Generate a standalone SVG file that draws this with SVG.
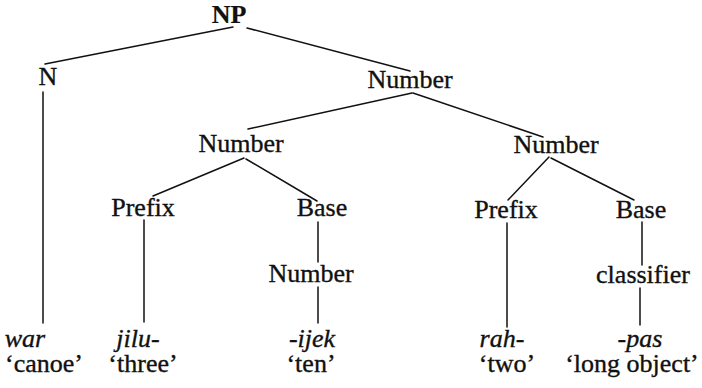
<svg xmlns="http://www.w3.org/2000/svg" width="702" height="388" viewBox="0 0 702 388">
  <style>
    .lbl { font-family: "Liberation Serif", "DejaVu Serif", "Times New Roman", serif; font-size: 26px; fill: #111; stroke: #111; stroke-width: 0.35; text-anchor: middle; }
    .root { font-weight: bold; stroke-width: 0.2; }
    .form { font-style: italic; }
    .edge { stroke: #111; stroke-width: 1.5; fill: none; stroke-linecap: round; }
  </style>
  <rect width="702" height="388" fill="#fff"/>

  <!-- tree branches -->
  <g id="connectors">
    <line class="edge" x1="233" y1="27" x2="45" y2="64"/>
    <line class="edge" x1="247" y1="28" x2="410" y2="71"/>
    <line class="edge" x1="412" y1="93" x2="248" y2="129"/>
    <line class="edge" x1="413" y1="93" x2="543" y2="137"/>
    <line class="edge" x1="244" y1="158" x2="153" y2="196"/>
    <line class="edge" x1="246" y1="159" x2="317" y2="201"/>
    <line class="edge" x1="549" y1="157" x2="508" y2="200"/>
    <line class="edge" x1="551" y1="158" x2="634" y2="200"/>
    <line class="edge" x1="43" y1="92" x2="43" y2="323"/>
    <line class="edge" x1="144" y1="220" x2="144" y2="322"/>
    <line class="edge" x1="318" y1="222" x2="318" y2="262"/>
    <line class="edge" x1="318" y1="287" x2="318" y2="323"/>
    <line class="edge" x1="507" y1="223" x2="507" y2="327"/>
    <line class="edge" x1="642" y1="222" x2="642" y2="265"/>
    <line class="edge" x1="640" y1="288" x2="640" y2="325"/>
  </g>

  <!-- category nodes -->
  <g id="np"><text class="lbl root" x="229" y="23">NP</text></g>
  <g id="n"><text class="lbl" x="48" y="85">N</text></g>
  <g id="number-top"><text class="lbl" x="410" y="88">Number</text></g>
  <g id="number-left"><text class="lbl" x="241" y="152">Number</text></g>
  <g id="number-right"><text class="lbl" x="556" y="153">Number</text></g>
  <g id="prefix-left"><text class="lbl" x="143" y="216">Prefix</text></g>
  <g id="base-left"><text class="lbl" x="322" y="216">Base</text></g>
  <g id="number-inner"><text class="lbl" x="311" y="282">Number</text></g>
  <g id="prefix-right"><text class="lbl" x="506" y="218">Prefix</text></g>
  <g id="base-right"><text class="lbl" x="641" y="218">Base</text></g>
  <g id="classifier"><text class="lbl" x="643" y="283">classifier</text></g>

  <!-- morphemes with glosses -->
  <g id="war">
    <text class="lbl form" x="25" y="347">war</text>
    <text class="lbl" x="44" y="372">‘canoe’</text>
  </g>
  <g id="jilu">
    <text class="lbl form" x="138" y="347">jilu-</text>
    <text class="lbl" x="143" y="372">‘three’</text>
  </g>
  <g id="ijek">
    <text class="lbl form" x="312" y="347">-ijek</text>
    <text class="lbl" x="311" y="372">‘ten’</text>
  </g>
  <g id="rah">
    <text class="lbl form" x="502" y="347">rah-</text>
    <text class="lbl" x="507" y="372">‘two’</text>
  </g>
  <g id="pas">
    <text class="lbl form" x="640" y="347">-pas</text>
    <text class="lbl" x="632" y="372">‘long object’</text>
  </g>
</svg>
